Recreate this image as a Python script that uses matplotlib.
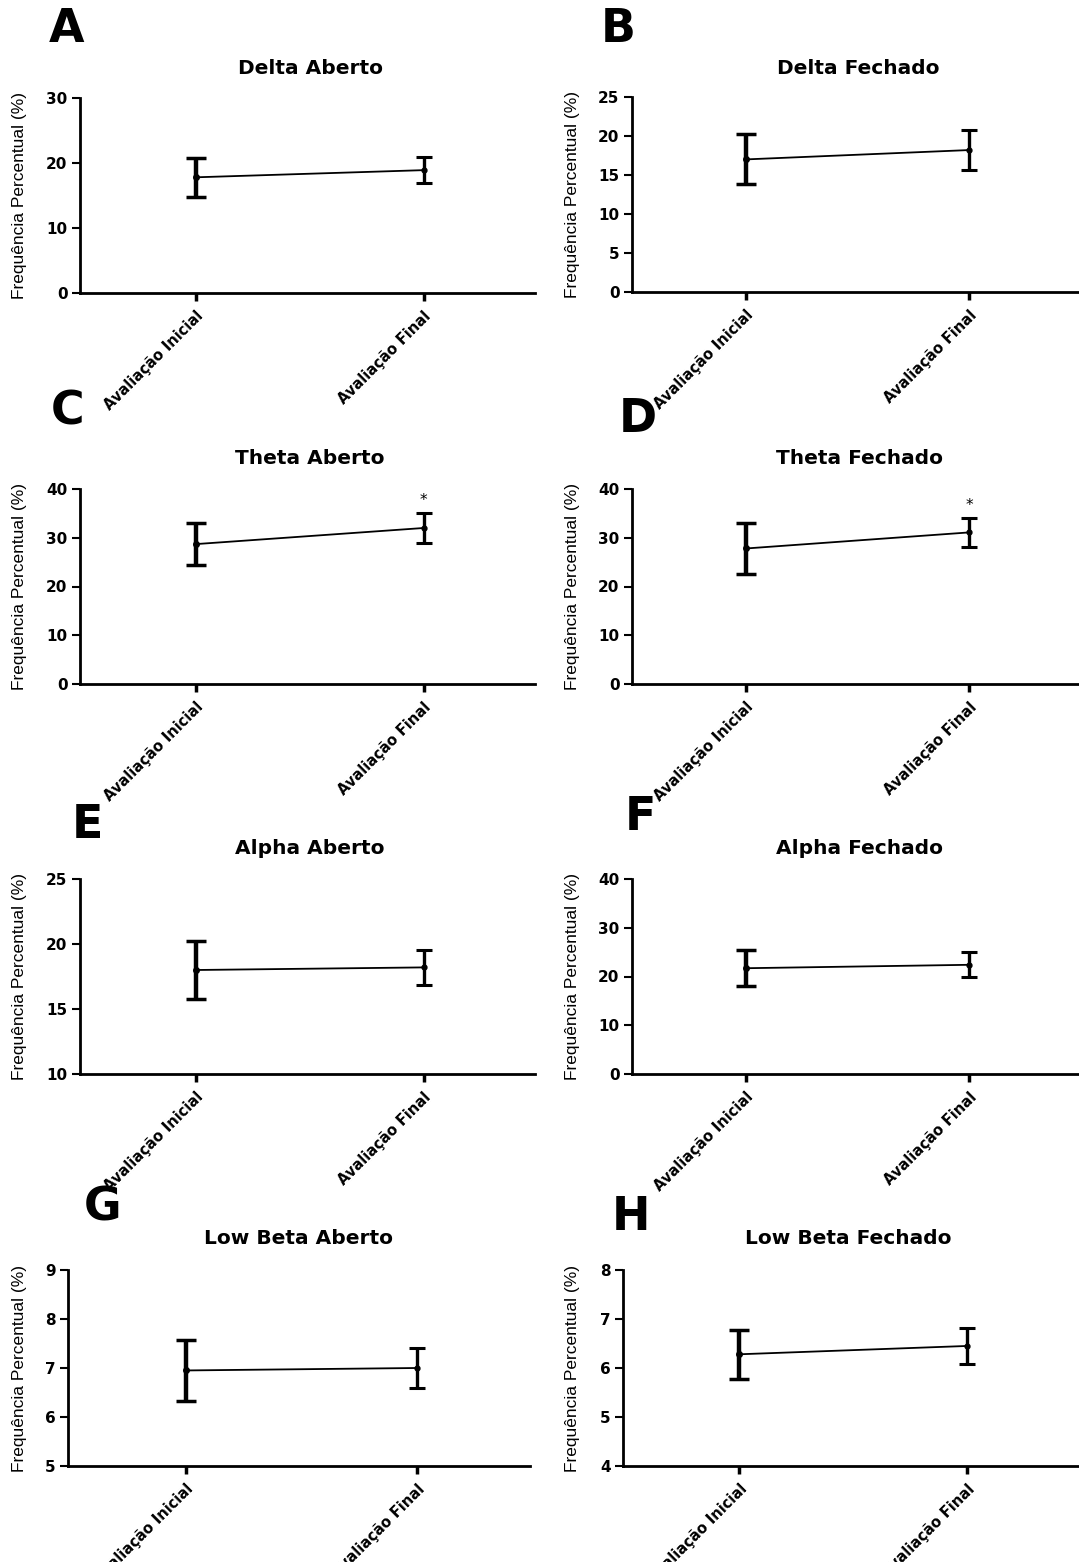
import matplotlib
matplotlib.use("Agg")
import matplotlib.pyplot as plt

# ---------------- data ----------------
panel_letters = ["A", "B", "C", "D", "E", "F", "G", "H"]
titles = ["Delta Aberto", "Delta Fechado", "Theta Aberto", "Theta Fechado",
          "Alpha Aberto", "Alpha Fechado", "Low Beta Aberto", "Low Beta Fechado"]
categories = ["Avaliação Inicial", "Avaliação Final"]

means_inicial = [17.8, 17.0, 28.7, 27.8, 18.0, 21.7, 6.95, 6.28]
means_final = [18.9, 18.2, 32.0, 31.1, 18.2, 22.4, 7.00, 6.45]
err_inicial = [3.0, 3.2, 4.3, 5.2, 2.2, 3.7, 0.63, 0.50]
err_final = [2.0, 2.6, 3.1, 2.9, 1.35, 2.6, 0.41, 0.37]
significant_final = [False, False, True, True, False, False, False, False]

y_limits = [(0, 30), (0, 25), (0, 40), (0, 40), (10, 25), (0, 40), (5, 9), (4, 8)]
y_ticks = [[0, 10, 20, 30], [0, 5, 10, 15, 20, 25], [0, 10, 20, 30, 40],
           [0, 10, 20, 30, 40], [10, 15, 20, 25], [0, 10, 20, 30, 40],
           [5, 6, 7, 8, 9], [4, 5, 6, 7, 8]]
y_label = "Frequência Percentual (%)"

# ---------------- layout (pixels) ----------------
W, H = 1079, 1562
# (left, right, top, bottom) of each axes in pixels
axes_px = [(80, 535, 98, 293), (632, 1079, 97, 292),
           (80, 535, 489, 684), (632, 1079, 489, 684),
           (80, 535, 879, 1074), (632, 1079, 879, 1074),
           (68, 530, 1270, 1466), (623, 1079, 1270, 1466)]
letter_px = [(67, 30), (618, 30), (68, 412), (638, 420),
             (87, 826), (640, 818), (103, 1208), (631, 1218)]
title_px = [(310, 68), (858, 68), (310, 459), (860, 459),
            (310, 849), (860, 849), (298, 1239), (848, 1239)]
ylabel_x = [20, 572, 20, 572, 20, 572, 20, 572]

fig = plt.figure(figsize=(W / 100, H / 100), dpi=100)
fig.patch.set_facecolor("white")

def fx(x):
    return x / W

def fy(y):
    return 1 - y / H

for i in range(8):
    l, r, t, b = axes_px[i]
    ax = fig.add_axes([fx(l), fy(b), (r - l) / W, (b - t) / H])
    xs = [0, 1]
    ys = [means_inicial[i], means_final[i]]
    ax.plot(xs, ys, color="black", lw=1.3, zorder=2)
    ax.errorbar([0], [means_inicial[i]], yerr=[err_inicial[i]], fmt="o", ms=4,
                color="black", ecolor="black", elinewidth=3.2, capsize=7,
                capthick=2.5, zorder=3)
    ax.errorbar([1], [means_final[i]], yerr=[err_final[i]], fmt="o", ms=3.5,
                color="black", ecolor="black", elinewidth=2.4, capsize=6,
                capthick=2.2, zorder=3)
    if significant_final[i]:
        ax.text(1, means_final[i] + err_final[i] + 1.0, "*", ha="center",
                va="bottom", fontsize=11, color="black")
    ax.set_xlim(-0.51, 1.49)
    ax.set_ylim(*y_limits[i])
    ax.set_yticks(y_ticks[i])
    ax.set_xticks(xs)
    ax.set_xticklabels(categories, rotation=45, ha="right",
                       rotation_mode="anchor", fontsize=10.5, fontweight="bold")
    for lab in ax.get_yticklabels():
        lab.set_fontweight("bold")
        lab.set_fontsize(11)
    ax.spines["top"].set_visible(False)
    ax.spines["right"].set_visible(False)
    ax.spines["left"].set_linewidth(2)
    ax.spines["bottom"].set_linewidth(2)
    ax.tick_params(axis="y", length=6, width=1.5, pad=3)
    ax.tick_params(axis="x", length=6, width=2.5, pad=5)
    ax.patch.set_alpha(0)

    fig.text(fx(ylabel_x[i]), fy((t + b) / 2), y_label, rotation=90,
             ha="center", va="center", fontsize=12.5, family="Liberation Sans")
    fig.text(fx(title_px[i][0]), fy(title_px[i][1]), titles[i], ha="center",
             va="center", fontsize=14.5, fontweight="bold")
    fig.text(fx(letter_px[i][0]), fy(letter_px[i][1]), panel_letters[i],
             ha="center", va="center", fontsize=33, fontweight="bold")

fig.savefig("out.png", dpi=100, facecolor="white")
